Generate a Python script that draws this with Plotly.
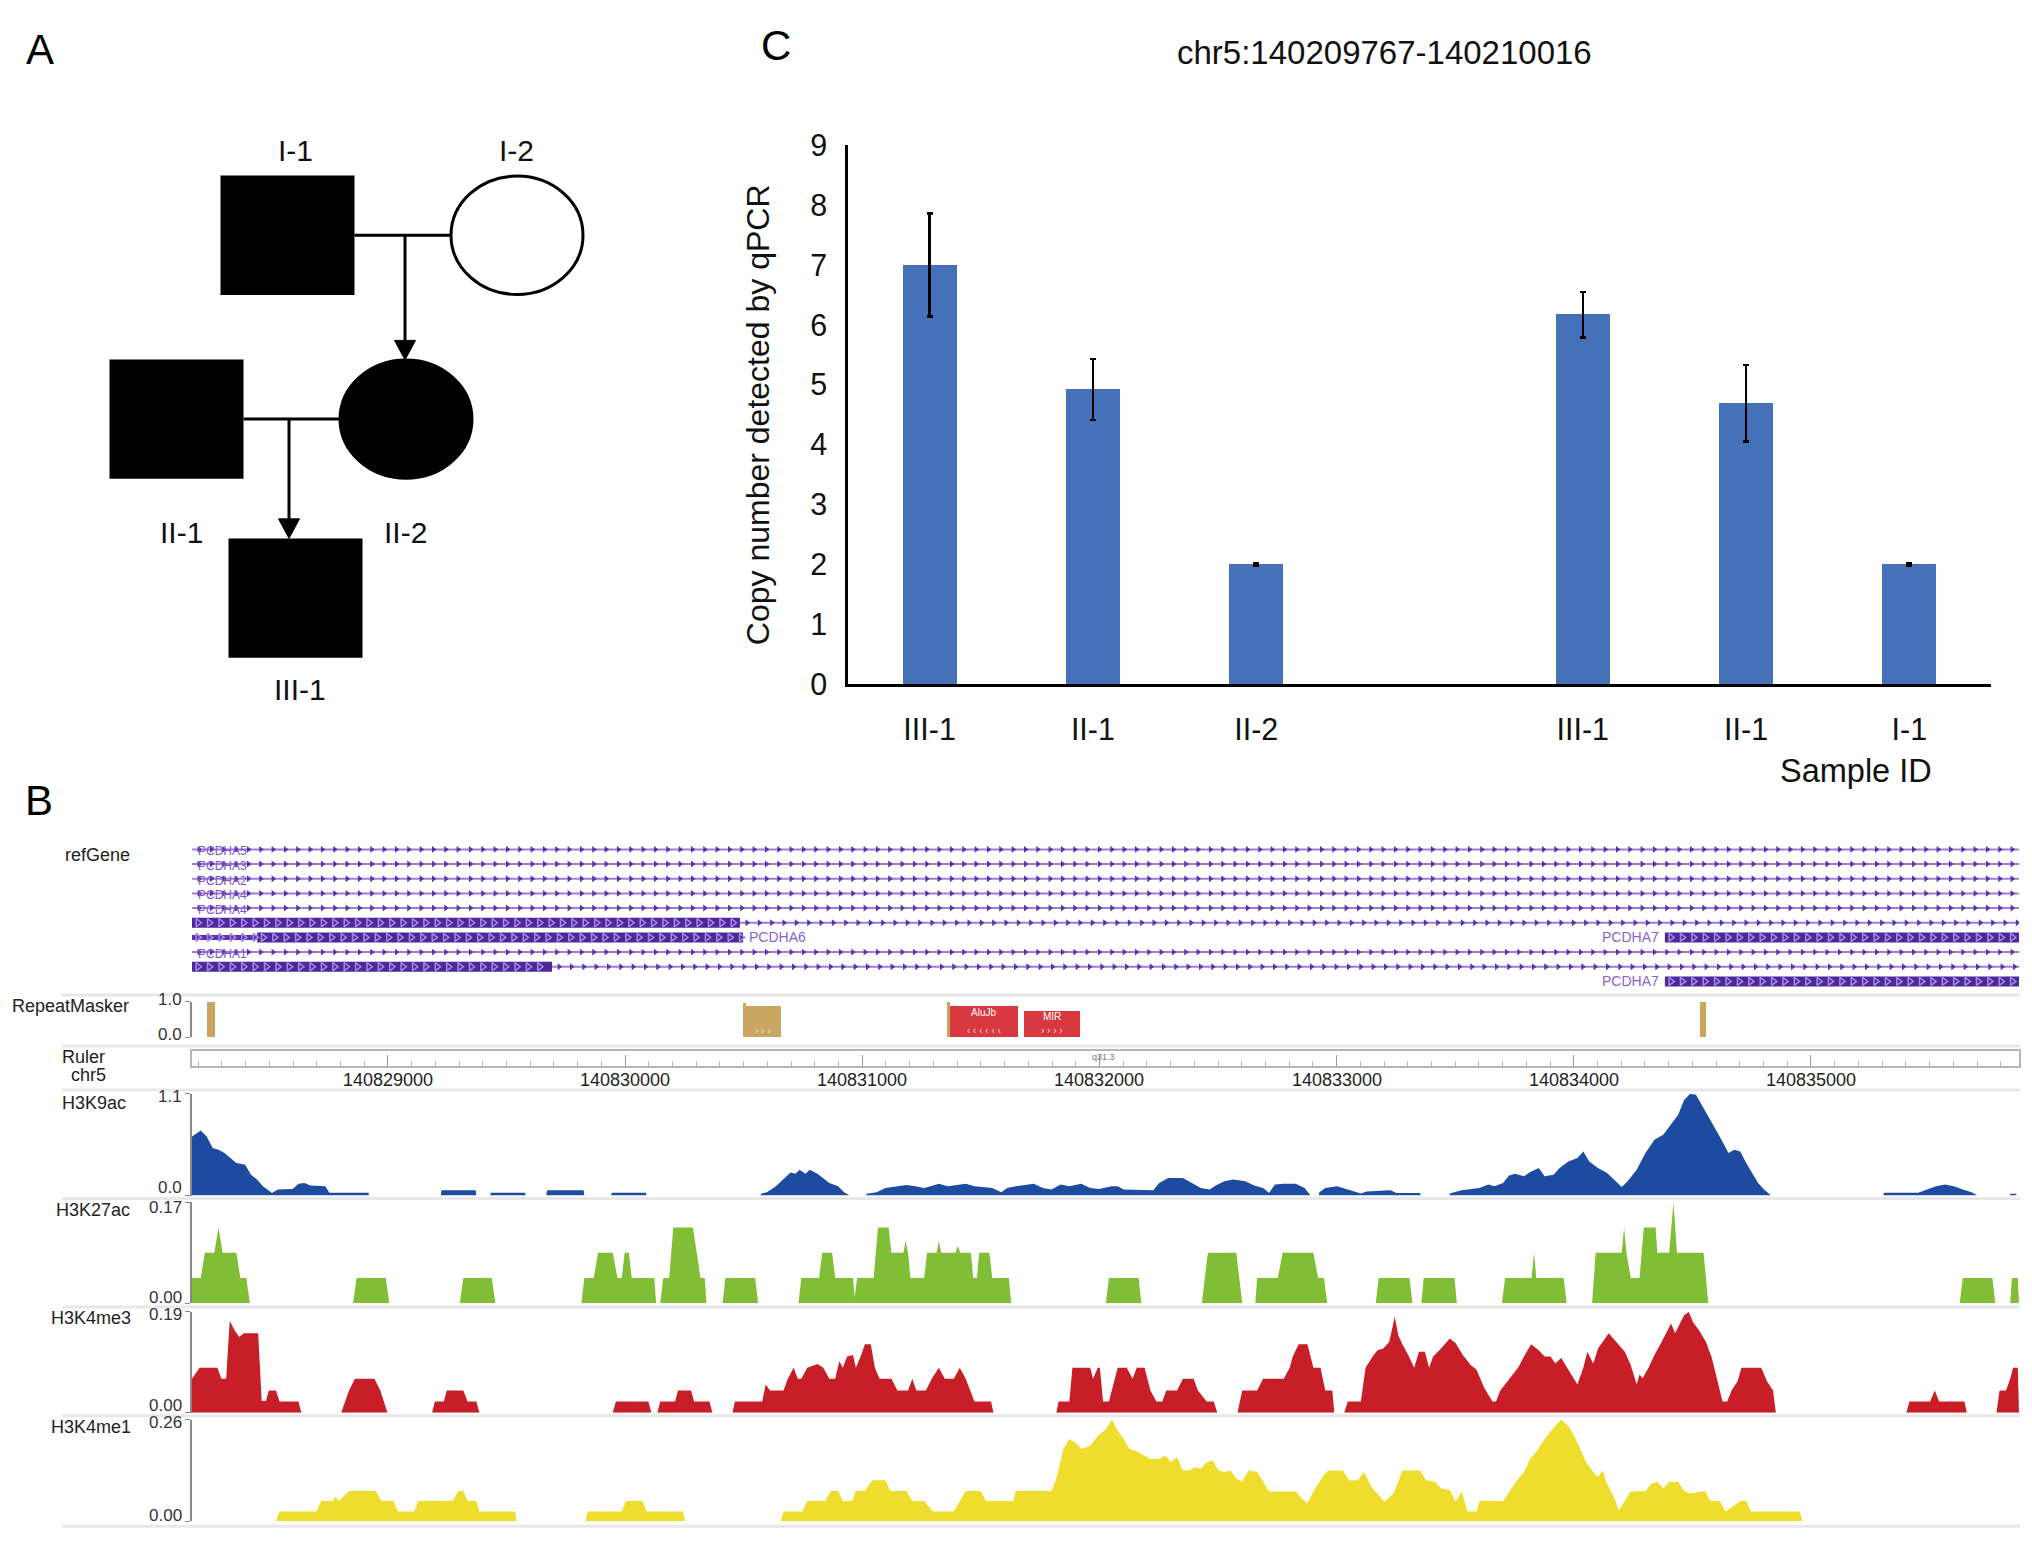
import numpy as np
import plotly.graph_objects as go

# ---------------- page geometry helpers (layout only) ----------------
W, H = 2016, 1541
def fx(X):
    return (X - 8) / W
def fy(Y):
    return 1 - (Y - 8) / H

FONT = "Liberation Sans, Arial, Helvetica, sans-serif"

# ---------------- Panel C data ----------------
SAMPLES = ["III-1", "II-1", "II-2", None, "III-1", "II-1", "I-1"]
COPY_NUMBER = [7.0, 4.92, 2.0, None, 6.17, 4.69, 2.0]
COPY_ERR = [0.86, 0.51, 0.02, None, 0.38, 0.64, 0.02]
C_TITLE = "chr5:140209767-140210016"

# ---------------- Panel A pedigree ----------------
NODE_IDS = ["I-1", "I-2", "II-1", "II-2", "III-1"]
NODE_X = [287.5, 517, 176.5, 406, 295.5]
NODE_Y = [223, 223, 411, 411, 594]
NODE_SHAPE = ["square", "circle", "square", "circle", "square"]
NODE_AFFECTED = [True, False, True, True, True]
LABEL_X = [295, 516, 181, 405, 300]
LABEL_Y = [136, 136, 527, 527, 688]
COUPLES = [("I-1", "I-2", "II-2", 405), ("II-1", "II-2", "III-1", 289)]

# ---------------- Panel B data (offsets in bp from region start) ----------------
REGION_START = 140828174
REGION_END = 140835877
RULER_TICKS = [140829000, 140830000, 140831000, 140832000, 140833000, 140834000, 140835000]

GENE_THIN = [(1, 0, 7703), (2, 0, 7703), (3, 0, 7703), (4, 0, 7703), (5, 0, 7703),
             (6, 2310, 7703), (8, 0, 7703), (9, 1518, 7703)]
GENE_UTR = [(7, 0, 275)]
GENE_THICK = [(6, 0, 2310), (7, 275, 2323), (7, 6210, 7703), (9, 0, 1518), (10, 6210, 7703)]
GENE_LEFT_NAMES = [(1, "PCDHA5"), (2, "PCDHA3"), (3, "PCDHA2"), (4, "PCDHA4"), (5, "PCDHA4"), (8, "PCDHA1")]
GENE_SIDE_NAMES = [(7, "PCDHA6", 2323, "left"), (7, "PCDHA7", 6210, "right"), (10, "PCDHA7", 6210, "right")]

REPEAT_NAMES = ["", "", "", "", "AluJb", "MIR", ""]
REPEAT_START = [63, 2323, 2336, 3183, 3196, 3508, 6358]
REPEAT_END = [97, 2336, 2483, 3196, 3482, 3744, 6383]
REPEAT_SCORE = [1.0, 0.98, 0.89, 1.0, 0.9, 0.75, 1.0]
REPEAT_CLASS = ["low", "low", "low", "low", "SINE", "SINE", "low"]

H3K9AC = [(0, 0.64), (37, 0.705), (62, 0.64), (87, 0.514), (112, 0.496), (137, 0.46), (162, 0.406),
          (187, 0.352), (224, 0.334), (249, 0.226), (274, 0.173), (299, 0.10), (337, 0.029), (362, 0.065),
          (424, 0.072), (449, 0.129), (474, 0.137), (499, 0.108), (562, 0.10), (579, 0.03), (744, 0.03), (746, 0),
          (1049, 0), (1052, 0.058), (1196, 0.058), (1199, 0),
          (1257, 0), (1260, 0.03), (1404, 0.03), (1407, 0),
          (1494, 0), (1497, 0.058), (1651, 0.058), (1654, 0),
          (1767, 0), (1770, 0.03), (1914, 0.03), (1917, 0),
          (2397, 0), (2399, 0.02), (2424, 0.036), (2462, 0.10), (2499, 0.19), (2524, 0.25), (2544, 0.237),
          (2562, 0.28), (2587, 0.237), (2604, 0.28), (2637, 0.237), (2662, 0.19), (2687, 0.137), (2724, 0.10),
          (2749, 0.036), (2774, 0),
          (2842, 0), (2844, 0.02), (2887, 0.036), (2924, 0.083), (2974, 0.10), (3012, 0.115), (3049, 0.10),
          (3087, 0.083), (3124, 0.108), (3149, 0.129), (3187, 0.10), (3224, 0.115), (3262, 0.129), (3299, 0.10),
          (3337, 0.093), (3374, 0.083), (3412, 0.036), (3437, 0.083), (3474, 0.10), (3512, 0.115), (3549, 0.129),
          (3587, 0.083), (3624, 0.065), (3662, 0.119), (3699, 0.10), (3749, 0.129), (3787, 0.083), (3824, 0.072),
          (3878, 0.10), (3903, 0.10), (3928, 0.065), (4053, 0.058), (4078, 0.137), (4116, 0.19), (4178, 0.19),
          (4216, 0.137), (4253, 0.083), (4291, 0.065), (4316, 0.108), (4353, 0.155), (4391, 0.173), (4441, 0.155),
          (4478, 0.108), (4516, 0.083), (4541, 0.029), (4566, 0.119), (4603, 0.129), (4653, 0.129), (4691, 0.083),
          (4716, 0),
          (4751, 0), (4753, 0.036), (4778, 0.083), (4828, 0.10), (4878, 0.065), (4928, 0.022), (4953, 0.043),
          (5003, 0.047), (5053, 0.058), (5078, 0.029), (5178, 0.029), (5180, 0),
          (5301, 0), (5303, 0.022), (5353, 0.058), (5428, 0.083), (5466, 0.119), (5491, 0.10), (5528, 0.137),
          (5553, 0.216), (5578, 0.237), (5616, 0.209), (5641, 0.252), (5678, 0.298), (5703, 0.209), (5741, 0.226),
          (5766, 0.298), (5803, 0.37), (5841, 0.406), (5866, 0.478), (5891, 0.37), (5928, 0.298), (5966, 0.244),
          (6003, 0.155), (6028, 0.093), (6053, 0.155), (6091, 0.28), (6128, 0.46), (6166, 0.604), (6203, 0.658),
          (6228, 0.748), (6266, 0.874), (6291, 1.035), (6316, 1.10), (6341, 1.09), (6366, 0.98), (6403, 0.82),
          (6441, 0.64), (6478, 0.46), (6503, 0.496), (6528, 0.478), (6553, 0.352), (6578, 0.244), (6603, 0.137),
          (6628, 0.065), (6658, 0),
          (7131, 0), (7133, 0.03), (7278, 0.03), (7316, 0.065), (7353, 0.10), (7391, 0.119), (7428, 0.10),
          (7466, 0.065), (7503, 0.036), (7528, 0),
          (7664, 0), (7666, 0.02), (7691, 0.02), (7693, 0)]

H3K27AC = [(0, 0.0425), (37, 0.0425), (54, 0.085), (94, 0.085), (112, 0.1275), (129, 0.085), (187, 0.085),
           (204, 0.0425), (229, 0.0425), (244, 0),
           (679, 0), (694, 0.0425), (817, 0.0425), (832, 0),
           (1129, 0), (1144, 0.0425), (1264, 0.0425), (1279, 0),
           (1642, 0), (1654, 0.0425), (1694, 0.0425), (1712, 0.085), (1774, 0.085), (1794, 0.0425), (1812, 0.0425),
           (1824, 0.085), (1842, 0.085), (1854, 0.0425), (1949, 0.0425), (1957, 0),
           (1974, 0), (1987, 0.0425), (2012, 0.0425), (2029, 0.1275), (2112, 0.1275), (2129, 0.085),
           (2144, 0.0425), (2162, 0.0425), (2169, 0),
           (2237, 0), (2249, 0.0425), (2374, 0.0425), (2387, 0),
           (2557, 0), (2569, 0.0425), (2644, 0.0425), (2657, 0.085), (2699, 0.085), (2712, 0.0425), (2787, 0.0425),
           (2794, 0.01), (2804, 0.0425), (2874, 0.0425), (2892, 0.1275), (2937, 0.1275), (2949, 0.085),
           (2999, 0.085), (3009, 0.105), (3019, 0.085), (3029, 0.0425), (3087, 0.0425), (3099, 0.085),
           (3139, 0.085), (3149, 0.105), (3159, 0.085), (3219, 0.085), (3229, 0.097), (3239, 0.085), (3284, 0.085),
           (3294, 0.0425), (3309, 0.0425), (3319, 0.085), (3362, 0.085), (3374, 0.0425), (3444, 0.0425), (3454, 0),
           (3853, 0), (3866, 0.0425), (3991, 0.0425), (4003, 0),
           (4258, 0), (4283, 0.085), (4403, 0.085), (4428, 0),
           (4483, 0), (4491, 0.0425), (4578, 0.0425), (4598, 0.085), (4728, 0.085), (4748, 0.0425),
           (4773, 0.0425), (4786, 0),
           (4991, 0), (5003, 0.0425), (5133, 0.0425), (5146, 0),
           (5183, 0), (5193, 0.0425), (5323, 0.0425), (5333, 0),
           (5523, 0), (5536, 0.0425), (5648, 0.0425), (5658, 0.085), (5668, 0.0425), (5783, 0.0425), (5796, 0),
           (5903, 0), (5918, 0.085), (6028, 0.085), (6038, 0.1275), (6048, 0.085), (6066, 0.0425), (6103, 0.0425),
           (6121, 0.1275), (6171, 0.1275), (6178, 0.085), (6228, 0.085), (6246, 0.17), (6261, 0.085),
           (6373, 0.085), (6393, 0),
           (7453, 0), (7466, 0.0425), (7591, 0.0425), (7603, 0),
           (7666, 0), (7673, 0.0425), (7698, 0.0425), (7703, 0)]

H3K4ME3 = [(0, 0.064), (32, 0.085), (107, 0.085), (124, 0.064), (144, 0.064), (159, 0.173), (179, 0.156),
           (199, 0.143), (219, 0.150), (279, 0.150), (294, 0.022), (312, 0.022), (324, 0.042), (354, 0.042),
           (369, 0.021), (449, 0.021), (461, 0),
           (629, 0), (662, 0.042), (687, 0.064), (769, 0.064), (794, 0.042), (824, 0),
           (1012, 0), (1024, 0.021), (1062, 0.021), (1074, 0.042), (1144, 0.042), (1162, 0.021), (1199, 0.021),
           (1212, 0),
           (1774, 0), (1787, 0.021), (1924, 0.021), (1937, 0),
           (1962, 0), (1974, 0.021), (2037, 0.021), (2049, 0.042), (2104, 0.042), (2117, 0.021), (2182, 0.021),
           (2194, 0),
           (2279, 0), (2289, 0.021), (2404, 0.021), (2419, 0.053), (2437, 0.042), (2494, 0.042), (2512, 0.064),
           (2537, 0.085), (2554, 0.064), (2569, 0.064), (2594, 0.085), (2637, 0.092), (2662, 0.085), (2687, 0.064),
           (2712, 0.064), (2729, 0.097), (2744, 0.085), (2762, 0.106), (2787, 0.109), (2799, 0.085), (2819, 0.106),
           (2837, 0.129), (2862, 0.129), (2879, 0.085), (2899, 0.064), (2949, 0.064), (2974, 0.042), (3019, 0.042),
           (3037, 0.064), (3054, 0.042), (3094, 0.042), (3119, 0.064), (3149, 0.085), (3174, 0.064), (3212, 0.064),
           (3237, 0.085), (3262, 0.064), (3299, 0.021), (3369, 0.021), (3379, 0),
           (3644, 0), (3654, 0.021), (3699, 0.021), (3712, 0.085), (3787, 0.085), (3799, 0.064), (3819, 0.085),
           (3828, 0.085), (3841, 0.021), (3866, 0.021), (3878, 0.042), (3903, 0.085), (3941, 0.085), (3966, 0.064),
           (3983, 0.085), (4016, 0.085), (4041, 0.042), (4066, 0.021), (4091, 0.021), (4108, 0.042), (4153, 0.042),
           (4178, 0.064), (4223, 0.064), (4241, 0.042), (4278, 0.021), (4308, 0.021), (4323, 0),
           (4408, 0), (4428, 0.042), (4491, 0.042), (4516, 0.064), (4603, 0.064), (4628, 0.085), (4641, 0.106),
           (4666, 0.129), (4703, 0.129), (4716, 0.106), (4728, 0.085), (4758, 0.085), (4778, 0.042), (4808, 0.042),
           (4816, 0),
           (4858, 0), (4873, 0.021), (4928, 0.021), (4948, 0.085), (4978, 0.106), (4998, 0.118), (5023, 0.121),
           (5048, 0.134), (5071, 0.181), (5086, 0.146), (5103, 0.129), (5128, 0.109), (5153, 0.085), (5173, 0.115),
           (5198, 0.115), (5216, 0.085), (5233, 0.106), (5266, 0.121), (5303, 0.140), (5328, 0.131), (5358, 0.109),
           (5391, 0.090), (5416, 0.081), (5448, 0.047), (5483, 0.021), (5498, 0.021), (5516, 0.042), (5553, 0.064),
           (5591, 0.085), (5616, 0.106), (5646, 0.129), (5678, 0.118), (5703, 0.106), (5728, 0.106), (5748, 0.093),
           (5773, 0.103), (5791, 0.090), (5816, 0.072), (5841, 0.053), (5866, 0.085), (5883, 0.115), (5908, 0.093),
           (5928, 0.121), (5973, 0.150), (6003, 0.134), (6041, 0.115), (6066, 0.090), (6091, 0.053), (6103, 0.072),
           (6116, 0.065), (6141, 0.085), (6166, 0.109), (6191, 0.129), (6216, 0.150), (6236, 0.168), (6253, 0.150),
           (6278, 0.174), (6291, 0.184), (6311, 0.19), (6328, 0.171), (6353, 0.156), (6383, 0.134), (6408, 0.103),
           (6428, 0.065), (6453, 0.021), (6473, 0.021), (6491, 0.042), (6516, 0.059), (6533, 0.085), (6616, 0.085),
           (6641, 0.059), (6666, 0.042), (6678, 0),
           (7228, 0), (7241, 0.021), (7328, 0.021), (7348, 0.042), (7366, 0.021), (7473, 0.021), (7483, 0),
           (7608, 0), (7621, 0.042), (7648, 0.042), (7666, 0.064), (7678, 0.085), (7698, 0.085), (7703, 0)]

H3K4ME1 = [(354, 0), (369, 0.025), (524, 0.025), (544, 0.052), (594, 0.052), (604, 0.063), (619, 0.052),
           (637, 0.063), (662, 0.077), (774, 0.077), (799, 0.052), (849, 0.052), (869, 0.025), (937, 0.025),
           (954, 0.052), (1099, 0.052), (1124, 0.077), (1144, 0.077), (1162, 0.052), (1199, 0.052), (1212, 0.025),
           (1362, 0.025), (1369, 0),
           (1657, 0), (1669, 0.025), (1812, 0.025), (1829, 0.052), (1899, 0.052), (1917, 0.025), (2069, 0.025),
           (2079, 0),
           (2482, 0), (2494, 0.025), (2574, 0.025), (2594, 0.052), (2669, 0.052), (2694, 0.077), (2724, 0.077),
           (2744, 0.052), (2782, 0.052), (2799, 0.077), (2837, 0.077), (2869, 0.105), (2924, 0.105), (2944, 0.077),
           (3012, 0.077), (3037, 0.052), (3087, 0.052), (3124, 0.025), (3212, 0.025), (3237, 0.052), (3262, 0.077),
           (3324, 0.077), (3349, 0.052), (3462, 0.052), (3474, 0.077), (3624, 0.077), (3644, 0.109), (3674, 0.185),
           (3699, 0.21), (3724, 0.201), (3749, 0.185), (3787, 0.193), (3819, 0.218), (3853, 0.235), (3878, 0.26),
           (3903, 0.231), (3928, 0.21), (3953, 0.185), (3978, 0.180), (4003, 0.172), (4041, 0.159), (4078, 0.159),
           (4103, 0.168), (4128, 0.151), (4153, 0.164), (4178, 0.130), (4203, 0.130), (4228, 0.138), (4253, 0.134),
           (4278, 0.151), (4303, 0.155), (4328, 0.130), (4353, 0.126), (4378, 0.130), (4403, 0.109), (4428, 0.101),
           (4453, 0.130), (4491, 0.126), (4516, 0.101), (4541, 0.076), (4653, 0.076), (4678, 0.059), (4703, 0.046),
           (4728, 0.076), (4766, 0.113), (4791, 0.130), (4853, 0.130), (4878, 0.105), (4916, 0.105), (4941, 0.126),
           (4978, 0.084), (5028, 0.050), (5066, 0.071), (5103, 0.130), (5178, 0.130), (5203, 0.105), (5241, 0.101),
           (5266, 0.084), (5303, 0.080), (5328, 0.050), (5353, 0.076), (5378, 0.025), (5416, 0.025), (5428, 0.052),
           (5528, 0.052), (5553, 0.076), (5578, 0.097), (5616, 0.126), (5641, 0.159), (5666, 0.176), (5703, 0.21),
           (5741, 0.239), (5773, 0.26), (5803, 0.243), (5828, 0.218), (5853, 0.185), (5878, 0.151), (5903, 0.130),
           (5928, 0.113), (5948, 0.130), (5966, 0.096), (5991, 0.067), (6016, 0.029), (6041, 0.052), (6066, 0.076),
           (6128, 0.077), (6153, 0.096), (6178, 0.101), (6203, 0.084), (6228, 0.101), (6266, 0.101), (6291, 0.077),
           (6316, 0.071), (6378, 0.077), (6403, 0.052), (6441, 0.052), (6466, 0.025), (6528, 0.052), (6553, 0.052),
           (6573, 0.025), (6778, 0.025), (6791, 0)]

TRACKS = [("H3K9ac", H3K9AC, 1.1, "1.1", "0.0", "#1c4ba0"),
          ("H3K27ac", H3K27AC, 0.17, "0.17", "0.00", "#80bf35"),
          ("H3K4me3", H3K4ME3, 0.19, "0.19", "0.00", "#c81e27"),
          ("H3K4me1", H3K4ME1, 0.26, "0.26", "0.00", "#efdd2e")]
TRACK_Y = [(1205, 1101), (1315, 1212), (1427, 1324), (1538, 1434)]
TRACK_LABEL_POS = [(94, 1110), (93, 1220), (91, 1330), (91, 1442)]
TRACK_VALUE_LABEL_Y = [(1104, 1197), (1217, 1309), (1327, 1420), (1437, 1532)]

fig = go.Figure()
shapes = []
annotations = []

def ann(text, X, Y, size, color="#000", **kw):
    d = dict(text=text, x=fx(X), y=fy(Y), xref="paper", yref="paper", showarrow=False,
             font=dict(family=FONT, size=size, color=color), xanchor="center", yanchor="middle")
    d.update(kw)
    annotations.append(d)

# ---------------- Panel A ----------------
HALF = {"square": (67, 61), "circle": (66, 60.5)}
node = {n: i for i, n in enumerate(NODE_IDS)}
for i, n in enumerate(NODE_IDS):
    hw, hh = HALF[NODE_SHAPE[i]]
    shapes.append(dict(type="rect" if NODE_SHAPE[i] == "square" else "circle", xref="x", yref="y",
                       x0=NODE_X[i] - hw, x1=NODE_X[i] + hw, y0=NODE_Y[i] - hh, y1=NODE_Y[i] + hh,
                       fillcolor="black" if NODE_AFFECTED[i] else "white",
                       line=dict(color="black", width=0 if NODE_SHAPE[i] == "square" else 3)))
    annotations.append(dict(text=n, x=LABEL_X[i], y=LABEL_Y[i], xref="x", yref="y", showarrow=False,
                            font=dict(family=FONT, size=30, color="#111")))
for a, b, child, dropx in COUPLES:
    ia, ib, ic = node[a], node[b], node[child]
    ya = NODE_Y[ia]
    xa = NODE_X[ia] + HALF[NODE_SHAPE[ia]][0]
    xb = NODE_X[ib] - HALF[NODE_SHAPE[ib]][0]
    shapes.append(dict(type="line", xref="x", yref="y", x0=xa, x1=xb, y0=ya, y1=ya,
                       line=dict(color="black", width=3)))
    tip = NODE_Y[ic] - HALF[NODE_SHAPE[ic]][1]
    shapes.append(dict(type="line", xref="x", yref="y", x0=dropx, x1=dropx, y0=ya, y1=tip - 15,
                       line=dict(color="black", width=3)))
    shapes.append(dict(type="path", xref="x", yref="y",
                       path=f"M {dropx-10.5} {tip-20} L {dropx+10.5} {tip-20} L {dropx} {tip} Z",
                       fillcolor="black", line=dict(color="black", width=1)))

# ---------------- Panel C ----------------
idx = list(range(len(SAMPLES)))
fig.add_trace(go.Bar(x=idx, y=COPY_NUMBER, xaxis="x2", yaxis="y2", width=0.33,
                     marker=dict(color="#4471b8", line=dict(width=0)),
                     error_y=dict(type="data", array=COPY_ERR, color="black", thickness=2.5, width=3),
                     hoverinfo="skip"))

# ---------------- Panel B: refGene ----------------
def spans_xy(spans):
    xs, ys = [], []
    for row, s, e in spans:
        xs += [REGION_START + s, REGION_START + e, None]
        ys += [row, row, None]
    return xs, ys

tx, ty = spans_xy(GENE_THIN)
fig.add_trace(go.Scatter(x=tx, y=ty, xaxis="x3", yaxis="y3", mode="lines",
                         line=dict(color="#9b7fd6", width=2), hoverinfo="skip"))
ax_, ay_ = [], []
for row, s, e in GENE_THIN:
    for p in np.arange(s + 30, e - 5, 52):
        ax_.append(REGION_START + p); ay_.append(row)
fig.add_trace(go.Scatter(x=ax_, y=ay_, xaxis="x3", yaxis="y3", mode="markers",
                         marker=dict(symbol="triangle-right", size=6, color="#5a32aa"), hoverinfo="skip"))
ux, uy = spans_xy(GENE_UTR)
fig.add_trace(go.Scatter(x=ux, y=uy, xaxis="x3", yaxis="y3", mode="lines",
                         line=dict(color="#5b34a8", width=5), hoverinfo="skip"))
kx, ky = spans_xy(GENE_THICK)
fig.add_trace(go.Scatter(x=kx, y=ky, xaxis="x3", yaxis="y3", mode="lines",
                         line=dict(color="#4e279b", width=10), hoverinfo="skip"))
cx_, cy_ = [], []
for row, s, e in GENE_THICK + GENE_UTR:
    for p in np.arange(s + 25, e - 5, 48):
        cx_.append(REGION_START + p); cy_.append(row)
fig.add_trace(go.Scatter(x=cx_, y=cy_, xaxis="x3", yaxis="y3", mode="markers",
                         marker=dict(symbol="triangle-right-open", size=7, color="#a48ce6",
                                     line=dict(width=1.5, color="#a48ce6")), hoverinfo="skip"))
for row, name in GENE_LEFT_NAMES:
    annotations.append(dict(text=name, x=REGION_START + 15, y=row, xref="x3", yref="y3", showarrow=False,
                            xanchor="left", yanchor="middle", yshift=-2,
                            font=dict(family=FONT, size=12, color="#7f55c9")))
for row, name, pos, side in GENE_SIDE_NAMES:
    annotations.append(dict(text=name, x=REGION_START + pos, y=row, xref="x3", yref="y3", showarrow=False,
                            xanchor=side, yanchor="middle", xshift=4 if side == "left" else -4,
                            font=dict(family=FONT, size=14, color="#8a62cf")))

# ---------------- RepeatMasker ----------------
REP_COLOR = {"low": "#c8a560", "SINE": "#d8383f"}
fig.add_trace(go.Bar(x=[REGION_START + (s + e) / 2 for s, e in zip(REPEAT_START, REPEAT_END)],
                     y=REPEAT_SCORE, width=[e - s for s, e in zip(REPEAT_START, REPEAT_END)],
                     xaxis="x4", yaxis="y4", marker=dict(color=[REP_COLOR[c] for c in REPEAT_CLASS],
                                                         line=dict(width=0)), hoverinfo="skip"))
for name, s, e, sc in zip(REPEAT_NAMES, REPEAT_START, REPEAT_END, REPEAT_SCORE):
    if name:
        annotations.append(dict(text=name, x=REGION_START + (s + e) / 2, y=sc * 0.78, xref="x4", yref="y4",
                                showarrow=False, font=dict(family=FONT, size=10, color="white")))
        annotations.append(dict(text="‹ ‹ ‹ ‹ ‹ ‹" if name == "AluJb" else "› › › ›",
                                x=REGION_START + (s + e) / 2, y=0.18, xref="x4", yref="y4",
                                showarrow=False, font=dict(family=FONT, size=10, color="#f6d5d5")))
annotations.append(dict(text="› › ›", x=REGION_START + (REPEAT_START[2] + REPEAT_END[2]) / 2, y=0.18,
                        xref="x4", yref="y4", showarrow=False, font=dict(family=FONT, size=10, color="#f1e6cf")))

# ruler anchor (invisible) so the ruler subplot is drawn
fig.add_trace(go.Scatter(x=[REGION_START], y=[0.5], xaxis="x5", yaxis="y5", mode="markers",
                         marker=dict(opacity=0), hoverinfo="skip"))
for t in RULER_TICKS:
    annotations.append(dict(text=str(t), x=t, y=0, xref="x5", yref="y5", showarrow=False,
                            yanchor="top", yshift=-2, font=dict(family=FONT, size=18, color="#222")))

# ---------------- histone tracks ----------------
for k, (name, pts, top, tlab, blab, col) in enumerate(TRACKS):
    ax = k + 6
    fig.add_trace(go.Scatter(x=[REGION_START + o for o, v in pts], y=[v for o, v in pts],
                             xaxis=f"x{ax}", yaxis=f"y{ax}", mode="lines", line=dict(width=0, color=col),
                             fill="tozeroy", fillcolor=col, hoverinfo="skip"))

# ---------------- layout axes ----------------
layout = dict(width=W, height=H, margin=dict(l=0, r=0, t=0, b=0), paper_bgcolor="white",
              plot_bgcolor="white", showlegend=False, font=dict(family=FONT), bargap=0, autosize=False)

layout["xaxis"] = dict(domain=[fx(20), fx(660)], range=[20, 660], visible=False, anchor="y")
layout["yaxis"] = dict(domain=[fy(720), fy(60)], range=[720, 60], visible=False, anchor="x")

layout["xaxis2"] = dict(domain=[fx(848), fx(1991)], range=[-0.5, 6.5], anchor="y2", showline=True,
                        linecolor="black", linewidth=3, showgrid=False, zeroline=False, ticks="",
                        tickmode="array", tickvals=[i for i, s in zip(idx, SAMPLES) if s],
                        ticktext=[s for s in SAMPLES if s], ticklabelstandoff=16,
                        tickfont=dict(family=FONT, size=30.5, color="#111"))
layout["yaxis2"] = dict(domain=[fy(682), fy(131)], range=[0, 9], anchor="x2", showline=True,
                        linecolor="black", linewidth=2.5, showgrid=False, zeroline=False, ticks="",
                        dtick=1, ticklabelstandoff=12, tickfont=dict(family=FONT, size=30.5, color="#111"))

XB = [fx(192), fx(2019)]
RANGE_B = [REGION_START, REGION_END]
for ax in [3, 4, 6, 7, 8, 9]:
    layout[f"xaxis{ax}"] = dict(domain=XB, range=RANGE_B, visible=False, anchor=f"y{ax}")
layout["yaxis3"] = dict(domain=[fy(993.5), fy(843.5)], range=[10.5, 0.5], visible=False, anchor="x3")

bracket = dict(showline=True, linecolor="#888", linewidth=1.5, ticks="outside", ticklen=5, tickcolor="#888",
               showgrid=False, zeroline=False, showticklabels=False, tickmode="array")
layout["yaxis4"] = dict(domain=[fy(1043), fy(1007)], range=[0, 1], anchor="x4", tickvals=[0, 1], **bracket)
ann("1.0", 184, 1004, 17, "#333", xanchor="right")
ann("0.0", 184, 1040, 17, "#333", xanchor="right")
for k, (name, pts, top, tlab, blab, col) in enumerate(TRACKS):
    ax = k + 6
    y0, y1 = TRACK_Y[k]
    layout[f"yaxis{ax}"] = dict(domain=[fy(y0), fy(y1)], range=[0, top], anchor=f"x{ax}",
                                tickvals=[0, top], **bracket)
    ann(tlab, 184, TRACK_VALUE_LABEL_Y[k][0], 17, "#333", xanchor="right")
    ann(blab, 184, TRACK_VALUE_LABEL_Y[k][1], 17, "#333", xanchor="right")

layout["xaxis5"] = dict(domain=XB, range=RANGE_B, anchor="y5", showline=True, mirror=True,
                        linecolor="#b5b5b5", linewidth=1.5, showgrid=False, zeroline=False,
                        ticks="inside", ticklen=11, tickcolor="#999", tickwidth=1, showticklabels=False,
                        tickmode="array", tickvals=RULER_TICKS,
                        minor=dict(ticks="inside", ticklen=5, tickcolor="#bbb", dtick=100,
                                   tick0=RULER_TICKS[0]))
layout["yaxis5"] = dict(domain=[fy(1072), fy(1057)], range=[0, 1], anchor="x5", showline=True, mirror=True,
                        linecolor="#b5b5b5", linewidth=1.5, showticklabels=False, ticks="",
                        showgrid=False, zeroline=False)

# separators
for Y in [1000, 1052, 1097, 1208, 1319, 1430, 1543]:
    shapes.append(dict(type="line", xref="paper", yref="paper", x0=fx(62), x1=fx(2020), y0=fy(Y), y1=fy(Y),
                       line=dict(color="#e8e8e8", width=3), layer="below"))

# text labels
ann("A", 40, 33, 42)
ann("B", 39, 801, 42)
ann("C", 776, 29, 42)
ann(C_TITLE, 1384, 36, 33, "#111")
ann("Sample ID", 1856, 771, 32.5, "#111")
ann("Copy number detected by qPCR", 758, 407, 32, "#111", textangle=-90)
ann("refGene", 97, 857, 18, "#222")
ann("RepeatMasker", 70, 1011, 18, "#222")
ann("Ruler", 83, 1063, 18, "#222")
ann("chr5", 88, 1082, 18, "#222")
ann("q31.3", 1103, 1063, 9, "#777")
for (name, *_), (X, Y) in zip(TRACKS, TRACK_LABEL_POS):
    ann(name, X, Y, 18, "#222")

layout["shapes"] = shapes
layout["annotations"] = annotations
fig.update_layout(**layout)
fig.write_html("out.html")
